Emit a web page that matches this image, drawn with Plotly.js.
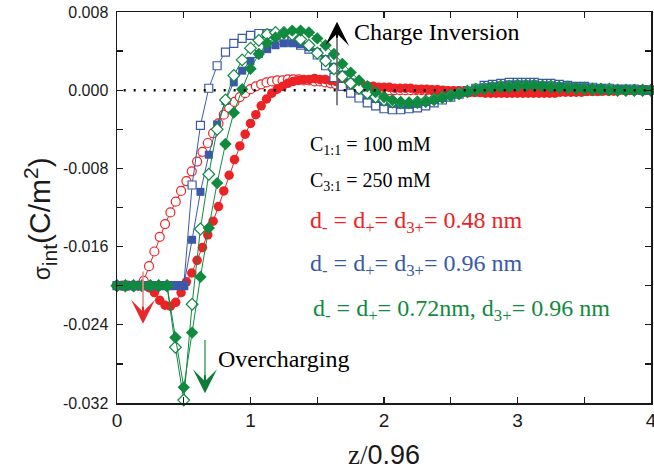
<!DOCTYPE html>
<html>
<head>
<meta charset="utf-8">
<script src="https://cdn.plot.ly/plotly-3.0.1.min.js"></script>
<style>html,body{margin:0;padding:0;background:#fff;}</style>
</head>
<body>
<div id="chart" style="width:654px;height:470px;"></div>
<script>
// x grid for d = 0.48 nm series (z/0.96)
const zRed = [0,0.04,0.08,0.12,0.16,0.20,0.24,0.28,0.32,0.36,0.40,0.44,0.48,0.52,0.56,0.60,0.64,0.68,0.72,0.76,0.80,0.84,0.88,0.92,0.96,1.00,1.04,1.08,1.12,1.16,1.20,1.24,1.28,1.32,1.36,1.40,1.44,1.48,1.52,1.56,1.60,1.64,1.68,1.72,1.76,1.80,1.84,1.88,1.92,1.96,2.00,2.04,2.08,2.12,2.16,2.20,2.24,2.28,2.32,2.36,2.40,2.44,2.48,2.52,2.56,2.60,2.64,2.68,2.72,2.76,2.80,2.84,2.88,2.92,2.96,3.00,3.04,3.08,3.12,3.16,3.20,3.24,3.28,3.32,3.36,3.40,3.44,3.48,3.52,3.56,3.60,3.64,3.68,3.72,3.76,3.80,3.84,3.88,3.92,3.96,4.00];
// red filled circles
const redFilled = [-0.0200,-0.0200,-0.0200,-0.0200,-0.0200,-0.0200,-0.0202,-0.0207,-0.0215,-0.0220,-0.0221,-0.0217,-0.0207,-0.0196,-0.0187,-0.0174,-0.0161,-0.0148,-0.0134,-0.0119,-0.0103,-0.0087,-0.0071,-0.0057,-0.0045,-0.0034,-0.0025,-0.0016,-0.0009,-0.0003,0.0001,0.0004,0.0007,0.0009,0.0010,0.0011,0.0011,0.0012,0.0011,0.0011,0.0010,0.0009,0.0008,0.0007,0.0006,0.0005,0.0005,0.0004,0.0004,0.0003,0.0003,0.0003,0.0002,0.0002,0.0002,0.0002,0.0001,0.0001,0.0001,0.0000,0.0000,0.0000,-0.0001,-0.0001,-0.0001,-0.0002,-0.0002,-0.0002,-0.0002,-0.0003,-0.0003,-0.0003,-0.0003,-0.0003,-0.0003,-0.0003,-0.0003,-0.0003,-0.0003,-0.0003,-0.0003,-0.0003,-0.0003,-0.0002,-0.0002,-0.0002,-0.0002,-0.0002,-0.0001,-0.0001,-0.0001,-0.0001,-0.0001,-0.0001,0.0000,0.0000,0.0000,0.0000,0.0000,0.0000,0.0000];
// red open circles
const redOpen = [-0.0200,-0.0200,-0.0200,-0.0200,-0.0200,-0.0195,-0.0180,-0.0165,-0.0150,-0.0137,-0.0125,-0.0114,-0.0103,-0.0093,-0.0083,-0.0073,-0.0063,-0.0054,-0.0044,-0.0034,-0.0025,-0.0018,-0.0012,-0.0007,-0.0003,0.0001,0.0004,0.0006,0.0008,0.0009,0.0010,0.0010,0.0011,0.0011,0.0011,0.0010,0.0010,0.0009,0.0009,0.0008,0.0007,0.0006,0.0005,0.0004,0.0003,0.0003,0.0002,0.0002,0.0001,0.0001,0.0001,0.0000,0.0000,0.0000,0.0000,0.0000,0.0000,0.0000,0.0000,0.0000,0.0000,-0.0001,-0.0001,-0.0001,-0.0001,-0.0001,-0.0002,-0.0002,-0.0002,-0.0002,-0.0002,-0.0002,-0.0002,-0.0002,-0.0002,-0.0002,-0.0002,-0.0002,-0.0002,-0.0002,-0.0002,-0.0002,-0.0002,-0.0001,-0.0001,-0.0001,-0.0001,-0.0001,-0.0001,-0.0001,-0.0001,0.0000,0.0000,0.0000,0.0000,0.0000,0.0000,0.0000,0.0000,0.0000,0.0000];
// x grid for the other series (z/0.96)
const zWide = [0,0.0625,0.125,0.1875,0.25,0.3125,0.375,0.4375,0.5,0.5625,0.625,0.6875,0.75,0.8125,0.875,0.9375,1.0,1.0625,1.125,1.1875,1.25,1.3125,1.375,1.4375,1.5,1.5625,1.625,1.6875,1.75,1.8125,1.875,1.9375,2.0,2.0625,2.125,2.1875,2.25,2.3125,2.375,2.4375,2.5,2.5625,2.625,2.6875,2.75,2.8125,2.875,2.9375,3.0,3.0625,3.125,3.1875,3.25,3.3125,3.375,3.4375,3.5,3.5625,3.625,3.6875,3.75,3.8125,3.875,3.9375,4.0];
// blue filled squares
const blueFilled = [-0.0200,-0.0200,-0.0200,-0.0200,-0.0200,-0.0200,-0.0200,-0.0200,-0.0200,-0.0153,-0.0104,-0.0066,-0.0035,-0.0011,0.0008,0.0020,0.0030,0.0037,0.0042,0.0046,0.0048,0.0048,0.0047,0.0044,0.0039,0.0032,0.0024,0.0016,0.0008,0.0001,-0.0005,-0.0009,-0.0012,-0.0014,-0.0015,-0.0015,-0.0014,-0.0012,-0.0010,-0.0008,-0.0005,-0.0003,-0.0001,0.0001,0.0003,0.0004,0.0005,0.0006,0.0006,0.0006,0.0006,0.0005,0.0005,0.0004,0.0004,0.0003,0.0003,0.0002,0.0002,0.0001,0.0001,0.0001,0.0000,0.0000,0.0000];
// blue open squares
const blueOpen = [-0.0200,-0.0200,-0.0200,-0.0200,-0.0200,-0.0200,-0.0200,-0.0200,-0.0200,-0.0097,-0.0036,0.0002,0.0025,0.0039,0.0048,0.0053,0.0056,0.0058,0.0058,0.0057,0.0054,0.0050,0.0046,0.0042,0.0036,0.0025,0.0013,0.0004,-0.0003,-0.0008,-0.0013,-0.0016,-0.0019,-0.0020,-0.0020,-0.0019,-0.0018,-0.0016,-0.0013,-0.0010,-0.0007,-0.0004,-0.0001,0.0002,0.0005,0.0006,0.0007,0.0008,0.0008,0.0008,0.0008,0.0007,0.0007,0.0006,0.0005,0.0004,0.0004,0.0003,0.0002,0.0002,0.0001,0.0001,0.0001,0.0000,0.0000];
// green filled diamonds
const greenFilled = [-0.0200,-0.0200,-0.0200,-0.0200,-0.0200,-0.0200,-0.0200,-0.0253,-0.0304,-0.0248,-0.0191,-0.0141,-0.0095,-0.0055,-0.0023,0.0001,0.0022,0.0037,0.0048,0.0054,0.0058,0.0061,0.0061,0.0059,0.0053,0.0046,0.0037,0.0027,0.0018,0.0010,0.0004,-0.0002,-0.0007,-0.0010,-0.0012,-0.0013,-0.0013,-0.0012,-0.0010,-0.0008,-0.0006,-0.0004,-0.0002,0.0000,0.0001,0.0002,0.0003,0.0003,0.0004,0.0004,0.0004,0.0004,0.0003,0.0003,0.0002,0.0002,0.0001,0.0001,0.0001,0.0000,0.0000,0.0000,0.0000,0.0000,0.0000];
// green open diamonds
const greenOpen = [-0.0200,-0.0200,-0.0200,-0.0200,-0.0200,-0.0200,-0.0200,-0.0263,-0.0317,-0.0219,-0.0142,-0.0086,-0.0040,-0.0010,0.0015,0.0031,0.0043,0.0051,0.0057,0.0059,0.0059,0.0057,0.0052,0.0046,0.0038,0.0030,0.0022,0.0014,0.0007,0.0002,-0.0003,-0.0007,-0.0010,-0.0012,-0.0013,-0.0013,-0.0012,-0.0011,-0.0009,-0.0007,-0.0005,-0.0003,-0.0001,0.0001,0.0002,0.0003,0.0004,0.0004,0.0005,0.0005,0.0005,0.0004,0.0004,0.0003,0.0003,0.0002,0.0002,0.0001,0.0001,0.0001,0.0000,0.0000,0.0000,0.0000,0.0000];

const xTickVals = [0,0.5,1,1.5,2,2.5,3,3.5,4];
const xTickText = ['0','','1','','2','','3','','4'];
const yTickVals = [-0.032,-0.028,-0.024,-0.020,-0.016,-0.012,-0.008,-0.004,0,0.004,0.008];
const yTickText = ['-0.032','','-0.024','','-0.016','','-0.008','','0.000','','0.008'];

const RED = '#ed2224', BLUE = '#3b59a8', GREEN = '#0f8a3e';
const SERIF = 'Liberation Serif, Times New Roman, serif';
const SANS = 'Liberation Sans, Arial, sans-serif';

function tr(x, y, color, symbol, size, open) {
  return {
    x: x, y: y, type: 'scatter', mode: 'lines+markers', cliponaxis: false,
    line: {color: color, width: 1},
    marker: {symbol: symbol, size: size, color: open ? '#ffffff' : color,
             line: {color: color, width: open ? 1.2 : 0}},
    hoverinfo: 'skip'
  };
}

const data = [
  tr(zRed, redOpen, RED, 'circle', 9, true),
  tr(zRed, redFilled, RED, 'circle', 9.5, false),
  tr(zWide, blueOpen, BLUE, 'square', 8, true),
  tr(zWide, blueFilled, BLUE, 'square', 8, false),
  tr(zWide, greenOpen, GREEN, 'diamond', 9, true),
  tr(zWide, greenFilled, GREEN, 'diamond', 9.5, false)
];

function txt(x, y, text, color, size) {
  return {x: x, y: y, xref: 'x', yref: 'y', text: text, showarrow: false,
          xanchor: 'left', yanchor: 'middle',
          font: {family: SERIF, size: size, color: color}};
}
function arrowLine(x, y0, y1, color, w) {
  return {x: x, y: y1, ax: x, ay: y0, xref: 'x', yref: 'y', axref: 'x', ayref: 'y',
          text: '', showarrow: true, arrowhead: 0, arrowwidth: w, arrowcolor: color};
}
function arrowHead(x, yTip, yBase, color, size) {
  return {x: x, y: yTip, ax: x, ay: yBase, xref: 'x', yref: 'y', axref: 'x', ayref: 'y',
          text: '', showarrow: true, arrowhead: 3, arrowsize: size, arrowwidth: 2, arrowcolor: color};
}

const annotations = [
  arrowLine(1.648, -0.0017, 0.0058, '#666666', 1.6),
  arrowHead(1.648, 0.0070, 0.0052, '#000000', 2.0),
  arrowLine(0.195, -0.0184, -0.0226, '#f08a8a', 1.6),
  arrowHead(0.195, -0.0239, -0.0220, '#e8282a', 2.0),
  arrowLine(0.659, -0.0254, -0.0296, '#52a96f', 1.6),
  arrowHead(0.659, -0.0310, -0.0290, '#0f7a38', 2.0),
  txt(1.76, 0.0060, 'Charge Inversion', '#000000', 24),
  txt(0.74, -0.0275, 'Overcharging', '#000000', 24),
  txt(1.43, -0.0057, 'C<sub>1:1</sub> = 100 mM', '#000000', 20),
  txt(1.43, -0.0093, 'C<sub>3:1</sub> = 250 mM', '#000000', 20),
  txt(1.43, -0.0135, 'd<sub>-</sub> = d<sub>+</sub>= d<sub>3+</sub>= 0.48 nm', RED, 24),
  txt(1.43, -0.0179, 'd<sub>-</sub> = d<sub>+</sub>= d<sub>3+</sub>= 0.96 nm', BLUE, 24),
  txt(1.45, -0.0225, 'd<sub>-</sub> = d<sub>+</sub>= 0.72nm, d<sub>3+</sub>= 0.96 nm', GREEN, 24),
  {x: -0.144, y: 0.47, xref: 'paper', yref: 'paper', textangle: -90, showarrow: false,
   xanchor: 'center', yanchor: 'middle',
   text: '<span style="font-size:23px">σ</span><sub>int</sub>(C/m<sup>2</sup>)',
   font: {family: SANS, size: 30, color: '#1a1a1a'}}
];

const layout = {
  width: 654, height: 470,
  margin: {l: 117, r: 3, t: 12, b: 67, pad: 0},
  paper_bgcolor: '#ffffff', plot_bgcolor: '#ffffff',
  showlegend: false,
  xaxis: {
    range: [0, 4], tickmode: 'array', tickvals: xTickVals, ticktext: xTickText,
    ticks: 'inside', ticklen: 6, tickwidth: 1.3, tickcolor: '#1a1a1a',
    mirror: 'ticks', showline: true, linecolor: '#1a1a1a', linewidth: 1.5,
    showgrid: false, zeroline: false, ticklabeloverflow: 'allow',
    tickfont: {family: SANS, size: 19, color: '#1a1a1a'},
    title: {text: 'z/<span style="font-family:Liberation Sans">0.96</span>', font: {family: SERIF, size: 27, color: '#1a1a1a'}, standoff: 16}
  },
  yaxis: {
    range: [-0.032, 0.008], tickmode: 'array', tickvals: yTickVals, ticktext: yTickText,
    ticks: 'inside', ticklen: 6, tickwidth: 1.3, tickcolor: '#1a1a1a',
    mirror: 'ticks', showline: true, linecolor: '#1a1a1a', linewidth: 1.5,
    showgrid: false, zeroline: false, ticklabelstandoff: 4,
    tickfont: {family: SANS, size: 16, color: '#1a1a1a'}
  },
  shapes: [
    {type: 'line', xref: 'x', yref: 'y', x0: 0.05, x1: 4, y0: 0, y1: 0,
     layer: 'above', line: {color: '#000000', width: 2.5, dash: '2px,8px'}}
  ],
  annotations: annotations
};

Plotly.newPlot('chart', data, layout, {displayModeBar: false, staticPlot: true});
</script>
</body>
</html>
